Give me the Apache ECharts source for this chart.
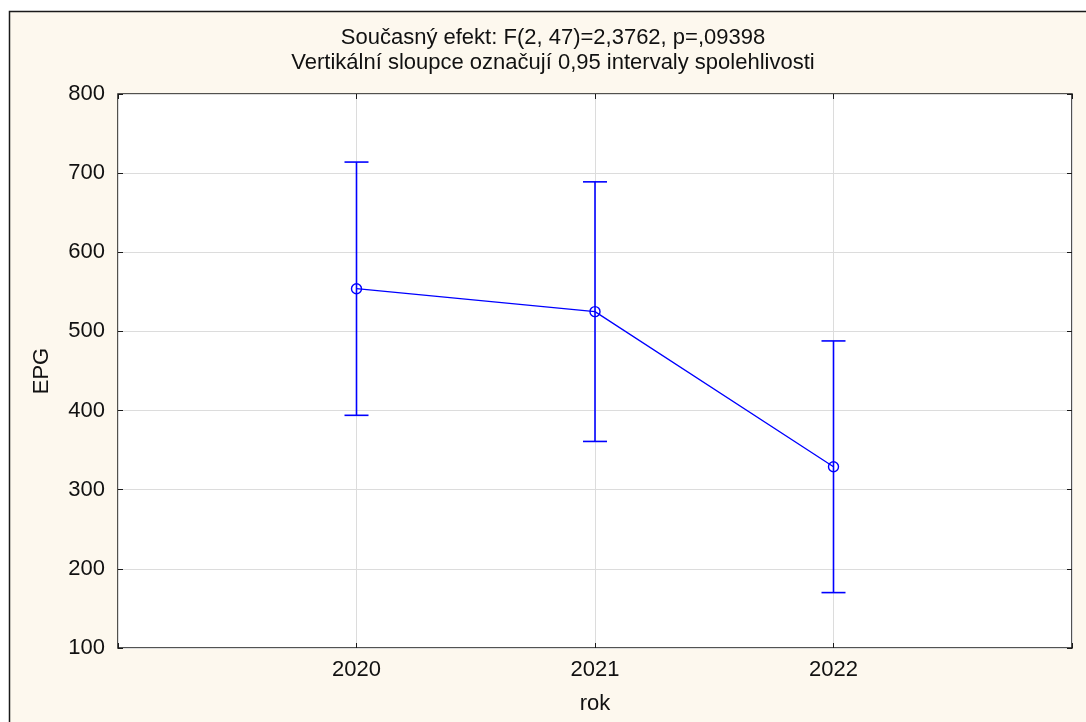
<!DOCTYPE html>
<html>
<head>
<meta charset="utf-8">
<script src="https://cdn.jsdelivr.net/npm/echarts@6/dist/echarts.min.js"></script>
<style>
  html, body { margin: 0; padding: 0; background: #ffffff; }
  #chart { width: 1086px; height: 722px; }
</style>
</head>
<body>
<div id="chart"></div>
<script>
// Mean EPG per year with 0.95 confidence intervals
const years = [2020, 2021, 2022];
const means = [554, 525, 329];
const lower = [394, 361, 170];
const upper = [714, 689, 488];
const yTicks = [100, 200, 300, 400, 500, 600, 700, 800];
const titleLines = [
  'Současný efekt: F(2, 47)=2,3762, p=,09398',
  'Vertikální sloupce označují 0,95 intervaly spolehlivosti'
];

const FONT = '"Liberation Sans", Arial, sans-serif';
const BLUE = '#0000ff';
const INK = '#111111';

const chart = echarts.init(document.getElementById('chart'), null, { renderer: 'canvas' });

const tickStyle = { show: true, inside: true, length: 5, lineStyle: { color: '#1a1a1a', width: 1 } };
const labelStyle = { fontFamily: FONT, fontSize: 22, color: INK };

const option = {
  backgroundColor: '#ffffff',
  animation: false,
  graphic: [
    {
      type: 'rect',
      z: -10,
      shape: { x: 9.5, y: 11.5, width: 1100, height: 740 },
      style: { fill: '#fdf8ee', stroke: '#1a1a1a', lineWidth: 1.5 }
    },
    {
      type: 'text',
      x: 553, y: 38,
      style: {
        text: titleLines[0], font: '22px ' + FONT, fill: INK,
        textAlign: 'center', textVerticalAlign: 'middle'
      }
    },
    {
      type: 'text',
      x: 553, y: 63,
      style: {
        text: titleLines[1], font: '22px ' + FONT, fill: INK,
        textAlign: 'center', textVerticalAlign: 'middle'
      }
    }
  ],
  grid: {
    left: 118, top: 94, right: 14, bottom: 74,
    show: true, backgroundColor: '#ffffff',
    borderColor: '#1a1a1a', borderWidth: 1.5
  },
  xAxis: [
    {
      type: 'value',
      min: 2019, max: 2023, interval: 1,
      name: 'rok', nameLocation: 'middle', nameGap: 45,
      nameTextStyle: labelStyle,
      axisLine: { show: false },
      axisTick: tickStyle,
      axisLabel: Object.assign({}, labelStyle, {
        margin: 11,
        formatter: v => (years.indexOf(v) >= 0 ? String(v) : '')
      }),
      splitLine: { show: true, lineStyle: { color: '#dcdcdc', width: 1 } }
    },
    {
      type: 'value', position: 'top',
      min: 2019, max: 2023, interval: 1,
      axisLine: { show: false },
      axisTick: tickStyle,
      axisLabel: { show: false },
      splitLine: { show: false }
    }
  ],
  yAxis: [
    {
      type: 'value',
      min: yTicks[0], max: yTicks[yTicks.length - 1], interval: 100,
      name: 'EPG', nameLocation: 'middle', nameGap: 65,
      nameTextStyle: labelStyle,
      axisLine: { show: false },
      axisTick: tickStyle,
      axisLabel: Object.assign({}, labelStyle, { margin: 13 }),
      splitLine: { show: true, lineStyle: { color: '#dcdcdc', width: 1 } }
    },
    {
      type: 'value', position: 'right',
      min: yTicks[0], max: yTicks[yTicks.length - 1], interval: 100,
      axisLine: { show: false },
      axisTick: tickStyle,
      axisLabel: { show: false },
      splitLine: { show: false }
    }
  ],
  series: [
    {
      type: 'custom',
      z: 3,
      data: years.map((y, i) => [y, lower[i], upper[i]]),
      renderItem: (params, api) => {
        const x = api.value(0);
        const lo = api.coord([x, api.value(1)]);
        const hi = api.coord([x, api.value(2)]);
        const half = 12;
        const st = { stroke: BLUE, lineWidth: 1.6, fill: null };
        return {
          type: 'group',
          children: [
            { type: 'line', shape: { x1: lo[0], y1: lo[1], x2: hi[0], y2: hi[1] }, style: st },
            { type: 'line', shape: { x1: hi[0] - half, y1: hi[1], x2: hi[0] + half, y2: hi[1] }, style: st },
            { type: 'line', shape: { x1: lo[0] - half, y1: lo[1], x2: lo[0] + half, y2: lo[1] }, style: st }
          ]
        };
      }
    },
    {
      type: 'line',
      z: 4,
      data: years.map((y, i) => [y, means[i]]),
      symbol: 'circle',
      symbolSize: 10,
      showSymbol: true,
      lineStyle: { color: BLUE, width: 1.3 },
      itemStyle: { color: 'rgba(0,0,0,0)', borderColor: BLUE, borderWidth: 1.4 }
    }
  ]
};

chart.setOption(option);
</script>
</body>
</html>
